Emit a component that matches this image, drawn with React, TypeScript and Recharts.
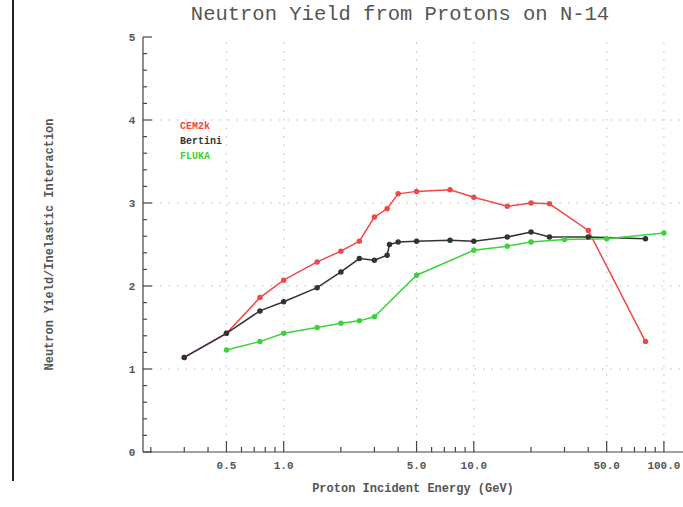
import React from "react";
import {
  Line,
  LineChart,
  ReferenceLine,
  XAxis,
  YAxis,
} from "recharts";

// Proton incident energy (GeV) and neutron yield per inelastic interaction
const CEM_E = [0.3, 0.5, 0.75, 1.0, 1.5, 2.0, 2.5, 3.0, 3.5, 4.0, 5.0, 7.5, 10, 15, 20, 25, 40, 80];
const CEM_Y = [1.14, 1.43, 1.86, 2.07, 2.29, 2.42, 2.54, 2.83, 2.93, 3.11, 3.14, 3.16, 3.07, 2.96, 3.0, 2.99, 2.67, 1.33];

const BERT_E = [0.3, 0.5, 0.75, 1.0, 1.5, 2.0, 2.5, 3.0, 3.5, 3.6, 4.0, 5.0, 7.5, 10, 15, 20, 25, 40, 80];
const BERT_Y = [1.14, 1.43, 1.7, 1.81, 1.98, 2.17, 2.33, 2.31, 2.37, 2.5, 2.53, 2.54, 2.55, 2.54, 2.59, 2.65, 2.59, 2.59, 2.57];

const FLUKA_E = [0.5, 0.75, 1.0, 1.5, 2.0, 2.5, 3.0, 5.0, 10, 15, 20, 30, 50, 100];
const FLUKA_Y = [1.23, 1.33, 1.43, 1.5, 1.55, 1.58, 1.63, 2.13, 2.43, 2.48, 2.53, 2.56, 2.57, 2.64];

const SERIES_NAMES = ["CEM2k", "Bertini", "FLUKA"];

const X_MAJOR = [0.5, 1, 5, 10, 50, 100];
const X_MINOR = [0.2, 0.3, 0.4, 0.6, 0.7, 0.8, 0.9, 2, 3, 4, 6, 7, 8, 9, 20, 30, 40, 60, 70, 80, 90];
const Y_MAJOR = [0, 1, 2, 3, 4, 5];
const Y_MINOR = [0.2, 0.4, 0.6, 0.8, 1.2, 1.4, 1.6, 1.8, 2.2, 2.4, 2.6, 2.8, 3.2, 3.4, 3.6, 3.8, 4.2, 4.4, 4.6, 4.8];
const Y_GRID = [1, 2, 3, 4];

const zip = (xs: number[], ys: number[]) => xs.map((e, i) => ({ e, y: ys[i] }));

const cem = zip(CEM_E, CEM_Y);
const bertini = zip(BERT_E, BERT_Y);
const fluka = zip(FLUKA_E, FLUKA_Y);

const RED = "#f04848";
const BLACK = "#333333";
const GREEN = "#3ad43a";
const COLORS = [RED, BLACK, GREEN];
const AXIS = "#444";
const MONO = "'Liberation Mono', 'DejaVu Sans Mono', monospace";

const xTicks = [...X_MAJOR, ...X_MINOR].sort((a, b) => a - b);
const yTicks = [...Y_MAJOR, ...Y_MINOR].sort((a, b) => a - b);

function XTick(props: any) {
  const { x, y, payload, side } = props;
  const major = X_MAJOR.includes(payload.value);
  const len = major ? 11 : 5;
  const dir = side === "bottom" ? -1 : 1;
  return (
    <g>
      <line x1={x} x2={x} y1={y} y2={y + dir * len} stroke={AXIS} strokeWidth={1.2} />
      {side === "bottom" && major && (
        <text
          x={x}
          y={y + 17}
          textAnchor="middle"
          fontFamily={MONO}
          fontWeight="bold"
          fontSize={11}
          fill="#555"
        >
          {payload.value.toFixed(1)}
        </text>
      )}
    </g>
  );
}

function YTick(props: any) {
  const { x, y, payload, side } = props;
  const major = Y_MAJOR.includes(payload.value);
  const len = major ? 9 : 4;
  const dir = side === "left" ? 1 : -1;
  return (
    <g>
      <line x1={x} x2={x + dir * len} y1={y} y2={y} stroke={AXIS} strokeWidth={1.2} />
      {side === "left" && major && (
        <text
          x={x - 11}
          y={y + 4}
          textAnchor="middle"
          fontFamily={MONO}
          fontWeight="bold"
          fontSize={11}
          fill="#555"
        >
          {payload.value}
        </text>
      )}
    </g>
  );
}

export default function App() {
  return (
    <div style={{ position: "absolute", left: 0, top: 0, width: 683, height: 507, background: "#fff" }}>
      <div style={{ position: "absolute", left: 12, top: 0, width: 2, height: 481, background: "#222" }} />
      <div
        style={{
          position: "absolute",
          left: 130,
          width: 540,
          top: 3,
          textAlign: "center",
          fontFamily: MONO,
          fontSize: 20.5,
          color: "#555",
        }}
      >
        Neutron Yield from Protons on N-14
      </div>
      <LineChart
        width={683}
        height={507}
        margin={{ top: 37, right: 0, bottom: 0, left: 0 }}
        style={{ position: "absolute", left: 0, top: 0 }}
      >
        <XAxis
          xAxisId="bottom"
          dataKey="e"
          type="number"
          scale="log"
          domain={[0.182, 126]}
          allowDataOverflow
          ticks={xTicks}
          interval={0}
          height={55}
          tickSize={0}
          tickMargin={0}
          stroke={AXIS}
          strokeWidth={1.2}
          tick={<XTick side="bottom" />}
          label={{
            value: "Proton Incident Energy (GeV)",
            position: "insideBottom",
            offset: 15,
            style: { fontFamily: MONO, fontWeight: "bold", fontSize: 12, fill: "#555" },
          }}
        />
        <XAxis
          xAxisId="top"
          orientation="top"
          dataKey="e"
          type="number"
          scale="log"
          domain={[0.182, 126]}
          allowDataOverflow
          ticks={xTicks}
          interval={0}
          height={0}
          tickSize={0}
          tickMargin={0}
          stroke={AXIS}
          strokeWidth={1.2}
          tick={<XTick side="top" />}
        />
        <YAxis
          yAxisId="left"
          type="number"
          domain={[0, 5]}
          ticks={yTicks}
          interval={0}
          width={143}
          tickSize={0}
          tickMargin={0}
          stroke={AXIS}
          strokeWidth={1.2}
          tick={<YTick side="left" />}
          label={{
            value: "Neutron Yield/Inelastic Interaction",
            angle: -90,
            position: "insideLeft",
            offset: 49,
            style: { textAnchor: "middle", fontFamily: MONO, fontWeight: "bold", fontSize: 12, fill: "#555" },
          }}
        />
        <YAxis
          yAxisId="right"
          orientation="right"
          type="number"
          domain={[0, 5]}
          ticks={yTicks}
          interval={0}
          width={0}
          tickSize={0}
          tickMargin={0}
          stroke={AXIS}
          strokeWidth={1.2}
          tick={<YTick side="right" />}
        />
        {X_MAJOR.map((v) => (
          <ReferenceLine
            key={`vx${v}`}
            x={v}
            xAxisId="bottom"
            yAxisId="left"
            stroke="#bbb"
            strokeDasharray="1.5 7"
          />
        ))}
        {Y_GRID.map((v) => (
          <ReferenceLine
            key={`hy${v}`}
            y={v}
            xAxisId="bottom"
            yAxisId="left"
            stroke="#bbb"
            strokeDasharray="1.5 7"
          />
        ))}
        <Line
          xAxisId="bottom"
          yAxisId="left"
          data={cem}
          dataKey="y"
          name={SERIES_NAMES[0]}
          stroke={RED}
          strokeWidth={1.5}
          dot={{ r: 2, fill: RED, stroke: RED }}
          isAnimationActive={false}
        />
        <Line
          xAxisId="bottom"
          yAxisId="left"
          data={bertini}
          dataKey="y"
          name={SERIES_NAMES[1]}
          stroke={BLACK}
          strokeWidth={1.5}
          dot={{ r: 2, fill: BLACK, stroke: BLACK }}
          isAnimationActive={false}
        />
        <Line
          xAxisId="bottom"
          yAxisId="left"
          data={fluka}
          dataKey="y"
          name={SERIES_NAMES[2]}
          stroke={GREEN}
          strokeWidth={1.5}
          dot={{ r: 2, fill: GREEN, stroke: GREEN }}
          isAnimationActive={false}
        />
      </LineChart>
      <div
        style={{
          position: "absolute",
          left: 180,
          top: 119,
          fontFamily: MONO,
          fontWeight: "bold",
          fontSize: 10,
          lineHeight: "15px",
        }}
      >
        {SERIES_NAMES.map((n, i) => (
          <div key={n} style={{ color: COLORS[i] }}>
            {n}
          </div>
        ))}
      </div>
    </div>
  );
}
